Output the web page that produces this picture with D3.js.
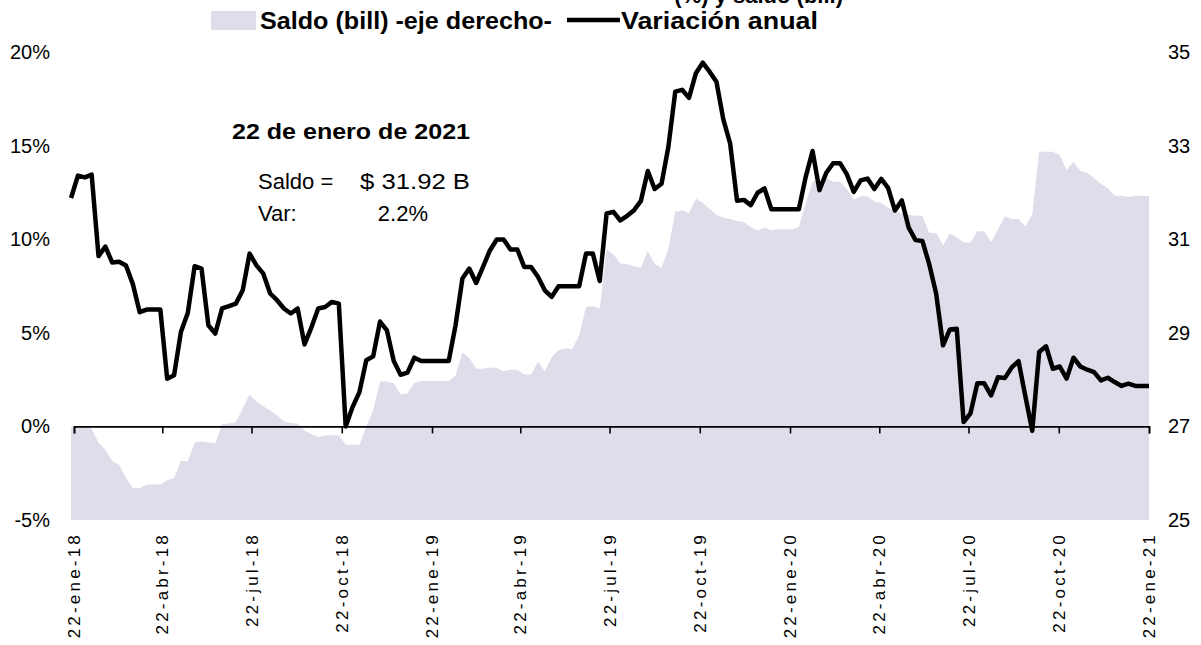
<!DOCTYPE html>
<html>
<head>
<meta charset="utf-8">
<script src="https://cdn.jsdelivr.net/npm/d3@7"></script>
<style>
  body { margin: 0; background: #fff; }
  svg { display: block; font-family: "Liberation Sans", Arial, sans-serif; }
  .tick text { fill: #000; }
</style>
</head>
<body>
<div id="chart"></div>
<script>
// weekly data, first week 19-ene-2018, last 22-ene-2021
var firstWeek = new Date(2018, 0, 19);

// saldo (bill) -eje derecho-
var saldo = [
  27.0, 27.0, 27.0, 26.95, 26.65, 26.5, 26.26, 26.18, 25.9, 25.68,
  25.68, 25.76, 25.76, 25.76, 25.85, 25.9, 26.26, 26.26, 26.65, 26.68,
  26.66, 26.64, 27.05, 27.06, 27.09, 27.38, 27.68, 27.53, 27.43, 27.34,
  27.24, 27.11, 27.07, 27.06, 26.91, 26.83, 26.77, 26.81, 26.81, 26.81,
  26.61, 26.61, 26.61, 27.0, 27.34, 27.96, 27.96, 27.92, 27.68, 27.71,
  27.93, 27.97, 27.97, 27.97, 27.97, 27.97, 28.09, 28.58, 28.46, 28.23,
  28.23, 28.26, 28.25, 28.18, 28.21, 28.21, 28.11, 28.11, 28.38, 28.18,
  28.48, 28.63, 28.67, 28.65, 28.95, 29.55, 29.57, 29.52, 30.78, 30.68,
  30.48, 30.47, 30.42, 30.39, 30.75, 30.47, 30.39, 30.8, 31.58, 31.62,
  31.56, 31.87, 31.78, 31.65, 31.52, 31.46, 31.43, 31.39, 31.37, 31.26,
  31.18, 31.25, 31.19, 31.21, 31.21, 31.21, 31.26, 31.75, 32.24, 32.24,
  32.3, 32.23, 32.23, 32.07, 31.85, 31.92, 31.92, 31.8, 31.78, 31.67,
  31.6, 31.55, 31.52, 31.5, 31.5, 31.13, 31.13, 30.87, 31.12, 31.04,
  30.93, 30.93, 31.17, 31.17, 30.94, 31.2, 31.49, 31.43, 31.43, 31.27,
  31.54, 32.87, 32.87, 32.87, 32.8, 32.48, 32.65, 32.46, 32.42, 32.3,
  32.18, 32.09, 31.93, 31.93, 31.9, 31.93, 31.93, 31.92
];

// variacion anual (%)
var variacion = [
  12.2, 13.4, 13.3, 13.45, 9.1, 9.6, 8.75, 8.8, 8.6, 7.6,
  6.1, 6.24, 6.24, 6.24, 2.55, 2.73, 5.04, 6.06, 8.56, 8.43,
  5.4, 4.96, 6.3, 6.42, 6.56, 7.27, 9.23, 8.6, 8.16, 7.1,
  6.74, 6.3, 6.03, 6.3, 4.38, 5.28, 6.3, 6.38, 6.65, 6.56,
  0.0, 1.03, 1.83, 3.53, 3.74, 5.6, 5.13, 3.49, 2.76, 2.87,
  3.67, 3.49, 3.49, 3.49, 3.49, 3.49, 5.4, 7.9, 8.43, 7.66,
  8.52, 9.4, 9.98, 9.98, 9.45, 9.45, 8.52, 8.52, 7.99, 7.27,
  6.92, 7.49, 7.49, 7.49, 7.49, 9.23, 9.23, 7.77, 11.37, 11.46,
  11.0, 11.25, 11.55, 12.05, 13.64, 12.68, 12.96, 14.94, 17.88, 17.98,
  17.55, 18.86, 19.43, 18.95, 18.41, 16.4, 15.1, 12.05, 12.1, 11.82,
  12.48, 12.71, 11.6, 11.6, 11.6, 11.6, 11.6, 13.33, 14.71, 12.62,
  13.55, 14.06, 14.06, 13.46, 12.53, 13.14, 13.24, 12.68, 13.22, 12.74,
  11.53, 12.07, 10.62, 9.95, 9.9, 8.65, 7.1, 4.33, 5.18, 5.22,
  0.23, 0.7, 2.3, 2.3, 1.66, 2.62, 2.58, 3.15, 3.49, 1.6,
  -0.23, 3.97, 4.28, 3.08, 3.2, 2.55, 3.67, 3.2, 3.03, 2.9,
  2.46, 2.6, 2.37, 2.16, 2.28, 2.16, 2.16, 2.16
];

var tickLabels = ["22-ene-18", "22-abr-18", "22-jul-18", "22-oct-18", "22-ene-19",
  "22-abr-19", "22-jul-19", "22-oct-19", "22-ene-20", "22-abr-20",
  "22-jul-20", "22-oct-20", "22-ene-21"];
var leftTicks = [-5, 0, 5, 10, 15, 20];
var rightTicks = [25, 27, 29, 31, 33, 35];

var svgWidth = 1201, svgHeight = 645;
var plot = { left: 74, right: 1149, top: 52, bottom: 520 };

var svg = d3.select("#chart").append("svg")
  .attr("width", svgWidth)
  .attr("height", svgHeight);

var dates = saldo.map((d, i) => d3.timeDay.offset(firstWeek, 7 * i));
var tickDates = tickLabels.map((d, k) => d3.timeMonth.offset(new Date(2018, 0, 22), 3 * k));

var x = d3.scaleTime()
  .domain([tickDates[0], tickDates[tickDates.length - 1]])
  .range([plot.left, plot.right]);
var yLeft = d3.scaleLinear().domain([-5, 20]).range([plot.bottom, plot.top]);
var yRight = d3.scaleLinear().domain([25, 35]).range([plot.bottom, plot.top]);

// area (saldo)
var area = d3.area()
  .x((d, i) => x(dates[i]))
  .y0(plot.bottom)
  .y1(d => yRight(d));

svg.append("path")
  .datum(saldo)
  .attr("fill", "#e0dcea")
  .attr("d", area);

// x axis at 0%
var xAxis = d3.axisBottom(x)
  .tickValues(tickDates)
  .tickSize(7)
  .tickFormat("");

svg.append("g")
  .attr("transform", `translate(0, ${yLeft(0)})`)
  .call(xAxis)
  .call(g => g.select(".domain").attr("stroke", "#000").attr("stroke-width", 1.6))
  .call(g => g.selectAll(".tick line").attr("stroke", "#000").attr("stroke-width", 1.6));

// rotated date labels
svg.append("g")
  .selectAll("text")
  .data(tickDates)
  .enter()
  .append("text")
  .attr("transform", d => `translate(${x(d)}, 532) rotate(-90)`)
  .attr("dy", "0.36em")
  .attr("text-anchor", "end")
  .style("font-size", "17px")
  .style("letter-spacing", "3.2px")
  .text((d, i) => tickLabels[i]);

// left axis
svg.append("g")
  .attr("transform", `translate(${plot.left}, 0)`)
  .call(d3.axisLeft(yLeft).tickValues(leftTicks).tickSize(0).tickPadding(24).tickFormat(d => d + "%"))
  .call(g => g.select(".domain").remove())
  .selectAll("text")
  .attr("font-family", null)
  .style("font-size", "20px");

// right axis
svg.append("g")
  .attr("transform", `translate(${plot.right}, 0)`)
  .call(d3.axisRight(yRight).tickValues(rightTicks).tickSize(0).tickPadding(19))
  .call(g => g.select(".domain").remove())
  .selectAll("text")
  .attr("font-family", null)
  .style("font-size", "20px");

// line (variacion anual)
var line = d3.line()
  .x((d, i) => x(dates[i]))
  .y(d => yLeft(d));

svg.append("path")
  .datum(variacion)
  .attr("fill", "none")
  .attr("stroke", "#000")
  .attr("stroke-width", 4.5)
  .attr("stroke-linejoin", "round")
  .attr("d", line);

// title (cut at top)
svg.append("text")
  .attr("x", 843)
  .attr("y", 3)
  .attr("text-anchor", "end")
  .style("font-size", "22px")
  .style("font-weight", "bold")
  .text("(%) y saldo (bill)");

// legend
svg.append("rect")
  .attr("x", 211).attr("y", 11)
  .attr("width", 45).attr("height", 19)
  .attr("fill", "#e0dcea");
svg.append("text")
  .attr("x", 260).attr("y", 29)
  .attr("textLength", 292)
  .attr("lengthAdjust", "spacingAndGlyphs")
  .style("font-size", "23px")
  .style("font-weight", "bold")
  .text("Saldo (bill) -eje derecho-");
svg.append("line")
  .attr("x1", 567).attr("x2", 620)
  .attr("y1", 20).attr("y2", 20)
  .attr("stroke", "#000")
  .attr("stroke-width", 4.5);
svg.append("text")
  .attr("x", 621).attr("y", 29)
  .attr("textLength", 197)
  .attr("lengthAdjust", "spacingAndGlyphs")
  .style("font-size", "23px")
  .style("font-weight", "bold")
  .text("Variación anual");

// annotation
var note = svg.append("g");
note.append("text")
  .attr("x", 232).attr("y", 139)
  .attr("textLength", 238)
  .attr("lengthAdjust", "spacingAndGlyphs")
  .style("font-size", "22px")
  .style("font-weight", "bold")
  .text("22 de enero de 2021");
note.append("text")
  .attr("x", 258).attr("y", 189)
  .style("font-size", "22px")
  .text("Saldo =");
note.append("text")
  .attr("x", 360).attr("y", 189)
  .attr("textLength", 110)
  .attr("lengthAdjust", "spacingAndGlyphs")
  .style("font-size", "22px")
  .text("$ 31.92 B");
note.append("text")
  .attr("x", 258).attr("y", 221)
  .style("font-size", "22px")
  .text("Var:");
note.append("text")
  .attr("x", 428).attr("y", 221)
  .attr("text-anchor", "end")
  .style("font-size", "22px")
  .text("2.2%");
</script>
</body>
</html>
